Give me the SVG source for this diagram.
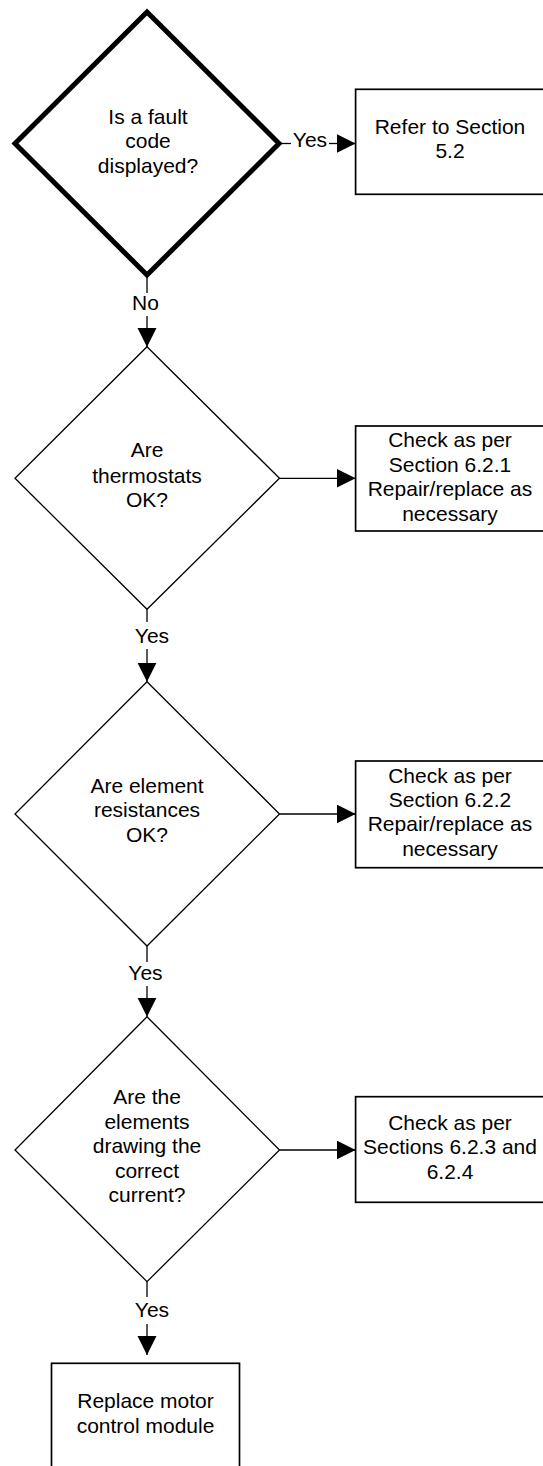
<svg xmlns="http://www.w3.org/2000/svg" width="543" height="1466" viewBox="0 0 543 1466">
<style>
  text { font-family: "Liberation Sans", Arial, sans-serif; font-size: 21px; fill: #000; text-anchor: middle; }
  .dia { fill: #fff; stroke: #000; stroke-width: 1.3; }
  .dia-thick { fill: #fff; stroke: #000; stroke-width: 5; stroke-linejoin: miter; }
  .box { fill: #fff; stroke: #000; stroke-width: 1.7; }
  .conn { fill: none; stroke: #000; stroke-width: 1.3; }
</style>
<defs>
  <marker id="arrow" markerUnits="userSpaceOnUse" markerWidth="20" markerHeight="20" refX="19" refY="9.5" orient="auto" viewBox="0 0 20 20">
    <path d="M0,0 L19,9.5 L0,19 Z" fill="#000"/>
  </marker>
</defs>
<rect x="0" y="0" width="543" height="1466" fill="#fff"/>

<g id="connectors">
  <path class="conn" d="M280,143.5 H291"/>
  <path class="conn" d="M329,143.5 H355.6" marker-end="url(#arrow)"/>
  <path class="conn" d="M147,276 V293"/>
  <path class="conn" d="M147,316 V347" marker-end="url(#arrow)"/>
  <path class="conn" d="M279.5,478.3 H355.6" marker-end="url(#arrow)"/>
  <path class="conn" d="M147,609.3 V622"/>
  <path class="conn" d="M147,649 V681.7" marker-end="url(#arrow)"/>
  <path class="conn" d="M279.5,814 H355.6" marker-end="url(#arrow)"/>
  <path class="conn" d="M147,946 V962"/>
  <path class="conn" d="M147,986 V1016.7" marker-end="url(#arrow)"/>
  <path class="conn" d="M279.5,1150 H355.6" marker-end="url(#arrow)"/>
  <path class="conn" d="M147,1281.7 V1297"/>
  <path class="conn" d="M147,1324 V1355" marker-end="url(#arrow)"/>
  <text x="310" y="146.5">Yes</text>
  <text x="145.5" y="310">No</text>
  <text x="152" y="643">Yes</text>
  <text x="145.5" y="980">Yes</text>
  <text x="152" y="1317">Yes</text>
</g>

<g id="d1">
  <polygon class="dia-thick" points="147,12 279,143.5 147,275 15,143.5"/>
  <text x="148" y="124">Is a fault</text>
  <text x="148" y="148">code</text>
  <text x="148" y="173">displayed?</text>
</g>
<g id="b1">
  <rect class="box" x="355.6" y="89.3" width="188.4" height="105"/>
  <text x="450" y="134.3">Refer to Section</text>
  <text x="450" y="158.3">5.2</text>
</g>

<g id="d2">
  <polygon class="dia" points="147,346.7 279.5,478.3 147,609.3 15,478.3"/>
  <text x="147" y="457">Are</text>
  <text x="147" y="482.5">thermostats</text>
  <text x="147" y="507">OK?</text>
</g>
<g id="b2">
  <rect class="box" x="355.6" y="426" width="188.4" height="105"/>
  <text x="450" y="447">Check as per</text>
  <text x="450" y="471.5">Section 6.2.1</text>
  <text x="450" y="496">Repair/replace as</text>
  <text x="450" y="520.5">necessary</text>
</g>

<g id="d3">
  <polygon class="dia" points="147,681.7 279.5,814 147,946 15,814"/>
  <text x="147" y="793">Are element</text>
  <text x="147" y="817">resistances</text>
  <text x="147" y="842">OK?</text>
</g>
<g id="b3">
  <rect class="box" x="355.6" y="761" width="188.4" height="106.7"/>
  <text x="450" y="782.7">Check as per</text>
  <text x="450" y="807">Section 6.2.2</text>
  <text x="450" y="831">Repair/replace as</text>
  <text x="450" y="856">necessary</text>
</g>

<g id="d4">
  <polygon class="dia" points="147,1016.7 279.5,1150 147,1281.7 15,1150"/>
  <text x="147" y="1104">Are the</text>
  <text x="147" y="1128.5">elements</text>
  <text x="147" y="1153">drawing the</text>
  <text x="147" y="1177.7">correct</text>
  <text x="147" y="1202">current?</text>
</g>
<g id="b4">
  <rect class="box" x="355.6" y="1096.7" width="188.4" height="105.6"/>
  <text x="450" y="1130">Check as per</text>
  <text x="450" y="1154.3">Sections 6.2.3 and</text>
  <text x="450" y="1179">6.2.4</text>
</g>

<g id="b5">
  <rect class="box" x="51.5" y="1363.3" width="188" height="105"/>
  <text x="145.5" y="1408.3">Replace motor</text>
  <text x="145.5" y="1432.5">control module</text>
</g>
</svg>
